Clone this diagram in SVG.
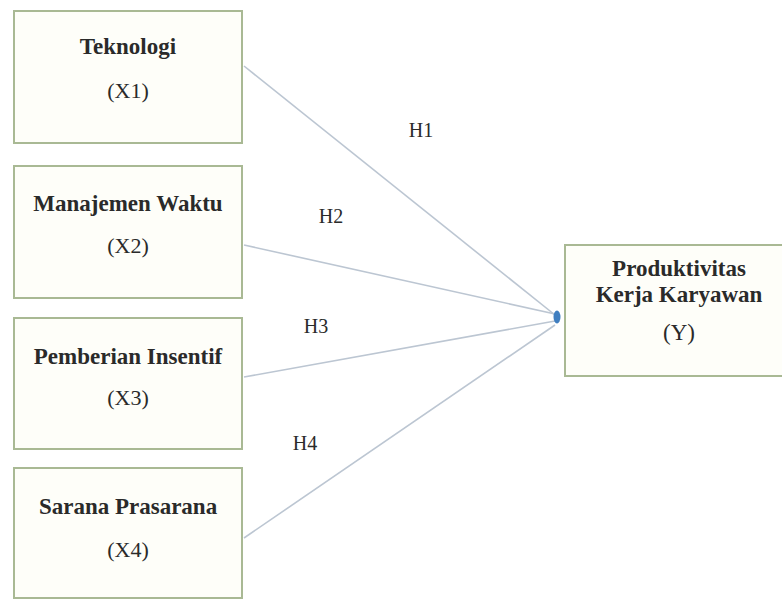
<svg xmlns="http://www.w3.org/2000/svg" width="782" height="599" viewBox="0 0 782 599">
<style>
.box{fill:#fefef9;stroke:#a9b994;stroke-width:2}
.t{font-family:'Liberation Serif','DejaVu Serif',serif;font-size:22px;fill:#2a2a2a;text-anchor:middle}
.b{font-weight:bold;font-size:23px}
.h{font-size:20px}
.y{font-size:23px}
.c{stroke:#bcc6d2;stroke-width:1.6;fill:none}
</style>
<rect width="782" height="599" fill="#ffffff"/>
<g id="connectors">
<line class="c" x1="244" y1="66" x2="555" y2="315"/>
<line class="c" x1="244" y1="245" x2="555" y2="314"/>
<line class="c" x1="244" y1="377" x2="555" y2="321"/>
<line class="c" x1="244" y1="538" x2="555" y2="325"/>
<ellipse cx="557" cy="317" rx="3.5" ry="6.5" fill="#3f7ec0"/>
<text class="t h" x="421" y="137">H1</text>
<text class="t h" x="331" y="223">H2</text>
<text class="t h" x="316" y="333">H3</text>
<text class="t h" x="305" y="450">H4</text>
</g>
<g id="x1">
<rect class="box" x="14" y="11" width="228" height="132"/>
<text class="t b" x="128" y="54">Teknologi</text>
<text class="t" x="128" y="98">(X1)</text>
</g>
<g id="x2">
<rect class="box" x="14" y="166" width="228" height="132"/>
<text class="t b" x="128" y="211">Manajemen Waktu</text>
<text class="t" x="128" y="253">(X2)</text>
</g>
<g id="x3">
<rect class="box" x="14" y="318" width="228" height="131"/>
<text class="t b" x="128" y="364">Pemberian Insentif</text>
<text class="t" x="128" y="405">(X3)</text>
</g>
<g id="x4">
<rect class="box" x="14" y="468" width="228" height="130"/>
<text class="t b" x="128" y="514">Sarana Prasarana</text>
<text class="t" x="128" y="557">(X4)</text>
</g>
<g id="y">
<rect class="box" x="565" y="245" width="230" height="131"/>
<text class="t b y" x="679" y="276">Produktivitas</text>
<text class="t b y" x="679" y="302">Kerja Karyawan</text>
<text class="t y" x="679" y="340">(Y)</text>
</g>
</svg>
